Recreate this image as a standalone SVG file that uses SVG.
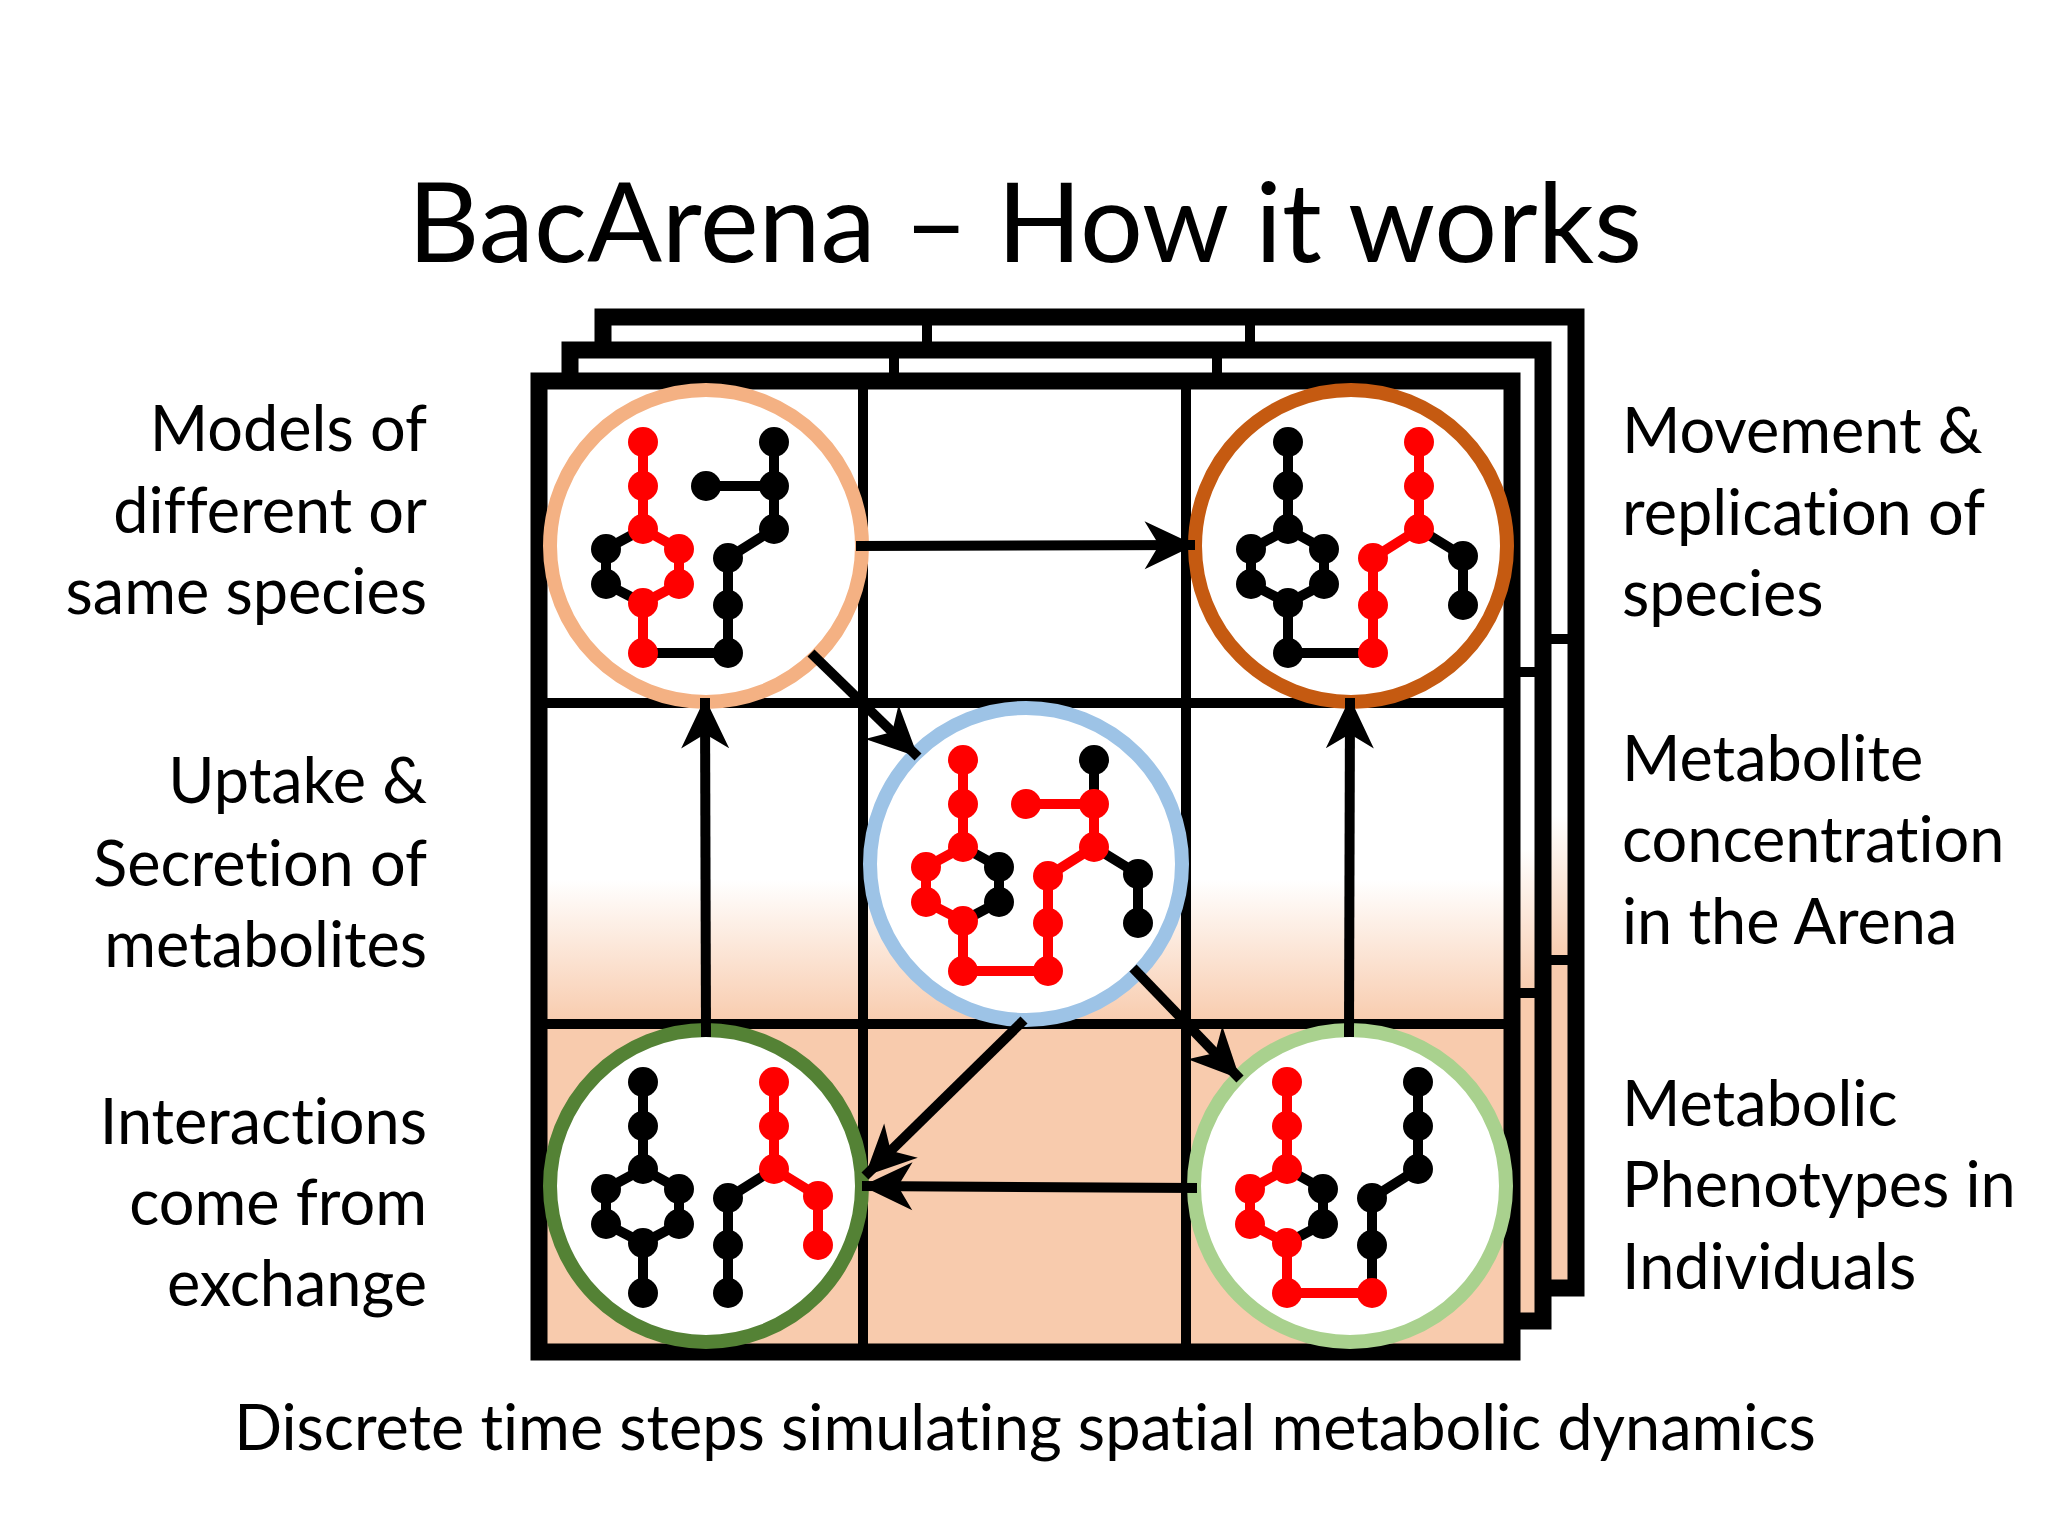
<svg xmlns="http://www.w3.org/2000/svg" xmlns:xlink="http://www.w3.org/1999/xlink" width="2048" height="1536" viewBox="0 0 2048 1536">
<style>
.t{font-family:Lato,"Open Sans","Liberation Sans",sans-serif;fill:#000;font-variant-ligatures:none}
.lbl{font-size:63px}
.k{stroke:#000;stroke-width:10;fill:none}
.r{stroke:#f00;stroke-width:10;fill:none}
.nk{fill:#000}
.nr{fill:#f00}
.ring{fill:#fff;stroke-width:14}
.ar{stroke:#000;stroke-width:10;fill:none;marker-end:url(#ah)}
</style>
<defs>
<linearGradient id="g" x1="0" y1="0" x2="0" y2="1">
<stop offset="0" stop-color="#fff"/><stop offset="0.55" stop-color="#fff"/><stop offset="1" stop-color="#f8cbad"/>
</linearGradient>
<marker id="ah" markerUnits="userSpaceOnUse" markerWidth="60" markerHeight="60" viewBox="-45 -25 50 50" refX="0" refY="0" orient="auto">
<path d="M0,0 L-42,-20 L-30,0 L-42,20 Z" fill="#000"/>
</marker>
<g id="grid">
<rect x="539" y="381" width="973" height="322" fill="#fff"/>
<rect x="539" y="703" width="973" height="321" fill="url(#g)"/>
<rect x="539" y="1024" width="973" height="328" fill="#f8cbad"/>
<path d="M863,381V1352M1186,381V1352M539,703H1512M539,1024H1512" stroke="#000" stroke-width="10"/>
<rect x="539" y="381" width="973" height="971" fill="none" stroke="#000" stroke-width="17"/>
</g>
</defs>
<rect width="2048" height="1536" fill="#fff"/>
<text class="t" x="1025" y="262" font-size="111" text-anchor="middle">BacArena – How it works</text>
<g id="frames">
<use xlink:href="#grid" transform="translate(64,-64)"/>
<use xlink:href="#grid" transform="translate(31,-31)"/>
<use xlink:href="#grid"/>
</g>
<g id="tl" transform="translate(706,546)">
<circle class="ring" r="156" stroke="#f4b183"/>
<path class="k" d="M-63,57L-100,38L-100,3L-63,-17M-63,107H22V12L68,-17V-104M0,-60H68"/>
<path class="r" d="M-63,-104V-17L-27,3L-27,38L-63,57V107"/>
<g class="nr"><circle cx="-63" cy="-104" r="15"/><circle cx="-63" cy="-60" r="15"/><circle cx="-63" cy="-17" r="15"/><circle cx="-27" cy="3" r="15"/><circle cx="-27" cy="38" r="15"/><circle cx="-63" cy="57" r="15"/><circle cx="-63" cy="107" r="15"/></g>
<g class="nk"><circle cx="-100" cy="38" r="15"/><circle cx="-100" cy="3" r="15"/><circle cx="22" cy="107" r="15"/><circle cx="22" cy="59" r="15"/><circle cx="22" cy="12" r="15"/><circle cx="68" cy="-17" r="15"/><circle cx="68" cy="-60" r="15"/><circle cx="68" cy="-104" r="15"/><circle cx="0" cy="-60" r="15"/></g>
</g>
<g id="tr" transform="translate(1351,546)">
<circle class="ring" r="156" stroke="#c55a11"/>
<path class="k" d="M-63,-104V-17L-27,3L-27,38L-63,57L-100,38L-100,3L-63,-17M-63,57V107H22M68,-17L112,10V59"/>
<path class="r" d="M22,107V12L68,-17V-104"/>
<g class="nk"><circle cx="-63" cy="-104" r="15"/><circle cx="-63" cy="-60" r="15"/><circle cx="-63" cy="-17" r="15"/><circle cx="-27" cy="3" r="15"/><circle cx="-27" cy="38" r="15"/><circle cx="-63" cy="57" r="15"/><circle cx="-63" cy="107" r="15"/><circle cx="-100" cy="38" r="15"/><circle cx="-100" cy="3" r="15"/><circle cx="112" cy="10" r="15"/><circle cx="112" cy="59" r="15"/></g>
<g class="nr"><circle cx="22" cy="107" r="15"/><circle cx="22" cy="59" r="15"/><circle cx="22" cy="12" r="15"/><circle cx="68" cy="-17" r="15"/><circle cx="68" cy="-60" r="15"/><circle cx="68" cy="-104" r="15"/></g>
</g>
<g id="mid" transform="translate(1026,864)">
<circle class="ring" r="156" stroke="#9dc3e6"/>
<path class="k" d="M-63,-17L-27,3L-27,38L-63,57M68,-60V-104M68,-17L112,10V59"/>
<path class="r" d="M-63,-104V-17L-100,3L-100,38L-63,57V107H22V12L68,-17V-60H0"/>
<g class="nr"><circle cx="-63" cy="-104" r="15"/><circle cx="-63" cy="-60" r="15"/><circle cx="-63" cy="-17" r="15"/><circle cx="-100" cy="3" r="15"/><circle cx="-100" cy="38" r="15"/><circle cx="-63" cy="57" r="15"/><circle cx="-63" cy="107" r="15"/><circle cx="22" cy="107" r="15"/><circle cx="22" cy="59" r="15"/><circle cx="22" cy="12" r="15"/><circle cx="68" cy="-17" r="15"/><circle cx="68" cy="-60" r="15"/><circle cx="0" cy="-60" r="15"/></g>
<g class="nk"><circle cx="-27" cy="3" r="15"/><circle cx="-27" cy="38" r="15"/><circle cx="68" cy="-104" r="15"/><circle cx="112" cy="10" r="15"/><circle cx="112" cy="59" r="15"/></g>
</g>
<g id="bl" transform="translate(706,1186)">
<circle class="ring" r="156" stroke="#548235"/>
<path class="k" d="M-63,-104V-17L-27,3L-27,38L-63,57L-100,38L-100,3L-63,-17M-63,57V107M22,107V12L68,-17"/>
<path class="r" d="M68,-104V-17L112,10V59"/>
<g class="nk"><circle cx="-63" cy="-104" r="15"/><circle cx="-63" cy="-60" r="15"/><circle cx="-63" cy="-17" r="15"/><circle cx="-27" cy="3" r="15"/><circle cx="-27" cy="38" r="15"/><circle cx="-63" cy="57" r="15"/><circle cx="-63" cy="107" r="15"/><circle cx="-100" cy="38" r="15"/><circle cx="-100" cy="3" r="15"/><circle cx="22" cy="107" r="15"/><circle cx="22" cy="59" r="15"/><circle cx="22" cy="12" r="15"/></g>
<g class="nr"><circle cx="68" cy="-17" r="15"/><circle cx="68" cy="-60" r="15"/><circle cx="68" cy="-104" r="15"/><circle cx="112" cy="10" r="15"/><circle cx="112" cy="59" r="15"/></g>
</g>
<g id="br" transform="translate(1350,1186)">
<circle class="ring" r="156" stroke="#a9d18e"/>
<path class="k" d="M-63,-17L-27,3L-27,38L-63,57M22,107V12L68,-17V-104"/>
<path class="r" d="M-63,-104V-17L-100,3L-100,38L-63,57V107H22"/>
<g class="nr"><circle cx="-63" cy="-104" r="15"/><circle cx="-63" cy="-60" r="15"/><circle cx="-63" cy="-17" r="15"/><circle cx="-100" cy="3" r="15"/><circle cx="-100" cy="38" r="15"/><circle cx="-63" cy="57" r="15"/><circle cx="-63" cy="107" r="15"/><circle cx="22" cy="107" r="15"/></g>
<g class="nk"><circle cx="-27" cy="3" r="15"/><circle cx="-27" cy="38" r="15"/><circle cx="22" cy="59" r="15"/><circle cx="22" cy="12" r="15"/><circle cx="68" cy="-17" r="15"/><circle cx="68" cy="-60" r="15"/><circle cx="68" cy="-104" r="15"/></g>
</g>
<g id="connectors">
<path class="ar" d="M856,546L1195,545"/>
<path class="ar" d="M811,653L918,757"/>
<path class="ar" d="M706,1037L705,698"/>
<path class="ar" d="M1349,1037L1350,698"/>
<path class="ar" d="M1133,968L1240,1079"/>
<path class="ar" d="M1024,1020L865,1176"/>
<path class="ar" d="M1197,1188L862,1186"/>
</g>
<g class="t lbl" text-anchor="end">
<text x="427" y="451">Models of</text><text x="427" y="533">different or</text><text x="427" y="614">same species</text>
<text x="427" y="803">Uptake &amp;</text><text x="427" y="886">Secretion of</text><text x="427" y="967">metabolites</text>
<text x="427" y="1144">Interactions</text><text x="427" y="1225">come from</text><text x="427" y="1306">exchange</text>
</g>
<g class="t lbl">
<text x="1622" y="453">Movement &amp;</text><text x="1622" y="535">replication of</text><text x="1622" y="616">species</text>
<text x="1622" y="781">Metabolite</text><text x="1622" y="862">concentration</text><text x="1622" y="944">in the Arena</text>
<text x="1622" y="1126">Metabolic</text><text x="1622" y="1207">Phenotypes in</text><text x="1622" y="1289">Individuals</text>
</g>
<text class="t lbl" x="1025" y="1450" text-anchor="middle">Discrete time steps simulating spatial metabolic dynamics</text>
</svg>
